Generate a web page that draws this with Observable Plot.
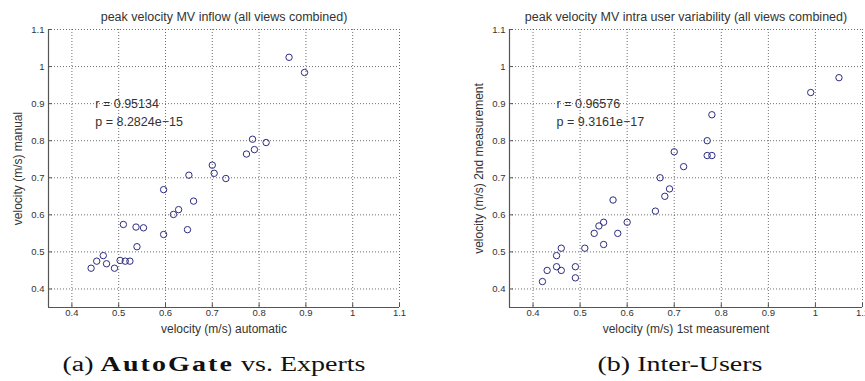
<!DOCTYPE html>
<html>
<head>
<meta charset="utf-8">
<script src="https://cdn.jsdelivr.net/npm/d3@7"></script>
<script src="https://cdn.jsdelivr.net/npm/@observablehq/plot@0.6"></script>
<style>
  html, body { margin: 0; padding: 0; background: #fff; }
  #wrap { position: relative; width: 865px; height: 381px; overflow: hidden; }
  .panel { position: absolute; top: 0; }
  .caption { position: absolute; top: 352px; font-family: "Liberation Serif", "Times New Roman", serif; font-size: 20px; line-height: 24px; color: #111; white-space: nowrap; transform: translateX(-50%) scaleX(1.4); }
  .caption b { letter-spacing: 1.5px; }
</style>
</head>
<body>
<div id="wrap"></div>
<script>
// ---- data ----
const ticks = [0.4, 0.5, 0.6, 0.7, 0.8, 0.9, 1.0, 1.1];
const tickLabels = ["0.4", "0.5", "0.6", "0.7", "0.8", "0.9", "1", "1.1"];

// (a) AutoGate vs. Experts
const autoX = [0.864, 0.897, 0.786, 0.815, 0.790, 0.773, 0.700, 0.704, 0.729, 0.650,
               0.596, 0.660, 0.628, 0.617, 0.647, 0.596, 0.510, 0.537, 0.553, 0.539,
               0.467, 0.453, 0.474, 0.441, 0.491, 0.503, 0.514, 0.524];
const manualY = [1.025, 0.984, 0.804, 0.795, 0.776, 0.764, 0.734, 0.712, 0.698, 0.707,
                 0.668, 0.637, 0.614, 0.601, 0.560, 0.547, 0.574, 0.567, 0.565, 0.514,
                 0.490, 0.475, 0.468, 0.456, 0.456, 0.477, 0.475, 0.475];

// (b) Inter-Users
const firstX = [1.05, 0.99, 0.78, 0.77, 0.77, 0.78, 0.70, 0.72, 0.67, 0.69,
                0.68, 0.66, 0.57, 0.60, 0.55, 0.54, 0.53, 0.58, 0.55, 0.51,
                0.46, 0.45, 0.45, 0.46, 0.43, 0.49, 0.49, 0.42];
const secondY = [0.97, 0.93, 0.87, 0.80, 0.76, 0.76, 0.77, 0.73, 0.70, 0.67,
                 0.65, 0.61, 0.64, 0.58, 0.58, 0.57, 0.55, 0.55, 0.52, 0.51,
                 0.51, 0.49, 0.46, 0.45, 0.45, 0.46, 0.43, 0.42];

const panels = [
  {title: "peak velocity MV inflow (all views combined)", xLabel: "velocity (m/s) automatic",
   yLabel: "velocity (m/s) manual", xs: autoX, ys: manualY,
   r: "r = 0.95134", p: "p = 8.2824e\u221215", caption: "(a) <b>AutoGate</b> vs. Experts",
   left: 0, width: 432, marginLeft: 48, marginRight: 33, capX: 214},
  {title: "peak velocity MV intra user variability (all views combined)", xLabel: "velocity (m/s) 1st measurement",
   yLabel: "velocity (m/s) 2nd measurement", xs: firstX, ys: secondY,
   r: "r = 0.96576", p: "p = 9.3161e\u221217", caption: "(b) Inter-Users",
   left: 432, width: 433, marginLeft: 77, marginRight: 3, capX: 680}
];

const font = "'Liberation Sans', Arial, Helvetica, sans-serif";
const wrap = document.getElementById("wrap");
const txt = "#333";

for (const P of panels) {
  const pts = P.xs.map((x, i) => ({x, y: P.ys[i]}));
  const chart = Plot.plot({
    width: P.width, height: 340,
    marginLeft: P.marginLeft, marginRight: P.marginRight, marginTop: 29, marginBottom: 33,
    style: {fontFamily: font, background: "#fff", overflow: "visible"},
    x: {domain: [0.35, 1.1]},
    y: {domain: [0.35, 1.1]},
    marks: [
      Plot.gridX(ticks, {stroke: "#333", strokeOpacity: 0.7, strokeDasharray: "1,2", strokeWidth: 1}),
      Plot.gridY(ticks, {stroke: "#333", strokeOpacity: 0.7, strokeDasharray: "1,2", strokeWidth: 1}),
      Plot.ruleX([0.35], {stroke: "#555", strokeWidth: 1.2}),
      Plot.ruleY([0.35], {stroke: "#555", strokeWidth: 1.2}),
      Plot.axisX(ticks, {tickSize: -4, tickPadding: 6, tickFormat: (d, i) => tickLabels[i], fontSize: 9.5, fill: txt, stroke: "#555", label: null}),
      Plot.axisY(ticks, {tickSize: -4, tickPadding: 8, tickFormat: (d, i) => tickLabels[i], fontSize: 9.5, fill: txt, stroke: "#555", label: null}),
      Plot.dot(pts, {x: "x", y: "y", r: 3.2, stroke: "#2c2c80", strokeWidth: 1, fill: "none"}),
      Plot.text([P.r], {x: 0.45, y: 0.9, text: d => d, textAnchor: "start", fontSize: 12.5, letterSpacing: 0.5, fill: txt}),
      Plot.text([P.p], {x: 0.45, y: 0.85, text: d => d, textAnchor: "start", fontSize: 12.5, letterSpacing: 0.5, fill: txt}),
      Plot.text([P.title], {frameAnchor: "top", lineAnchor: "middle", textAnchor: "middle", dy: -13, text: d => d, fontSize: 12.5, letterSpacing: 1, fill: txt}),
      Plot.text([P.xLabel], {frameAnchor: "bottom", lineAnchor: "middle", textAnchor: "middle", dy: 22, text: d => d, fontSize: 12, letterSpacing: 0.8, fill: txt}),
      Plot.text([P.yLabel], {frameAnchor: "left", lineAnchor: "middle", textAnchor: "middle", dx: -30, rotate: -90, text: d => d, fontSize: 12, letterSpacing: 0.8, fill: txt})
    ]
  });
  chart.classList.add("panel");
  chart.style.left = P.left + "px";
  wrap.appendChild(chart);

  const cap = document.createElement("div");
  cap.className = "caption";
  cap.innerHTML = P.caption;
  cap.style.left = P.capX + "px";
  wrap.appendChild(cap);
}
</script>
</body>
</html>
